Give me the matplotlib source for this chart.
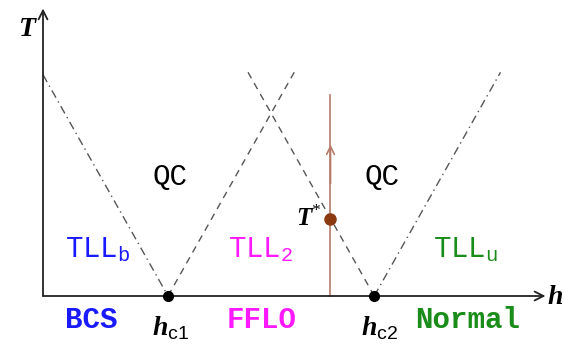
import matplotlib
matplotlib.use("Agg")
import matplotlib.pyplot as plt

plt.rcParams['mathtext.fontset'] = 'custom'
plt.rcParams['mathtext.rm'] = 'Liberation Serif'
plt.rcParams['mathtext.bf'] = 'Liberation Serif:bold:italic'
plt.rcParams['mathtext.sf'] = 'Liberation Sans'
plt.rcParams['mathtext.tt'] = 'Liberation Mono'

# critical fields and special points (arbitrary units)
hc = [1.0, 2.65]
h_star = 2.30
T_star = 0.62
T_star_top = 1.61
T_star_arrow = 1.21
# crossover lines: (h_start, T_start, h_end, T_end)
dashdot_lines = [(0.0, 1.77, 1.0, 0.0), (2.65, 0.0, 3.66, 1.79)]
dashed_lines = [(1.0, 0.0, 2.01, 1.79), (2.65, 0.0, 1.64, 1.79)]
# region labels
qc_pos = [(1.02, 0.95), (2.71, 0.95)]
tll_labels = [r'$\mathtt{TLL}_{\mathtt{b}}$', r'$\mathtt{TLL}_{\mathtt{2}}$', r'$\mathtt{TLL}_{\mathtt{u}}$']
tll_pos = [(0.44, 0.37), (1.74, 0.37), (3.38, 0.37)]
phase_labels = ['BCS', 'FFLO', 'Normal']
phase_pos = [(0.39, -0.19), (1.75, -0.19), (3.40, -0.19)]
colors = ['#1a1aff', '#ff19ff', '#1a8c1a']

fig = plt.figure(figsize=(5.64, 3.52), dpi=100)
ax = fig.add_axes([0, 0, 1, 1])
ax.set_xlim(-0.344, 4.168)
ax.set_ylim(-0.448, 2.368)
ax.axis('off')

# axes with arrows
ax.annotate('', xy=(4.02, 0), xytext=(0, 0),
            arrowprops=dict(arrowstyle='->', color='#222222', lw=1.3,
                            mutation_scale=16, shrinkA=0, shrinkB=0))
ax.annotate('', xy=(0, 2.30), xytext=(0, 0),
            arrowprops=dict(arrowstyle='->', color='#222222', lw=1.3,
                            mutation_scale=16, shrinkA=0, shrinkB=0))

for h0, t0, h1, t1 in dashdot_lines:
    ax.plot([h0, h1], [t0, t1], color='#555555', lw=1.0, linestyle=(0, (6, 3, 1, 3)))
for h0, t0, h1, t1 in dashed_lines:
    ax.plot([h0, h1], [t0, t1], color='#555555', lw=1.0, linestyle=(0, (5, 4)))

# T* trajectory
ax.plot([h_star, h_star], [0, T_star_top], color='#b57a6a', lw=1.2)
ax.annotate('', xy=(h_star, T_star_arrow), xytext=(h_star, 0.9),
            arrowprops=dict(arrowstyle='->', color='#b57a6a', lw=1.2,
                            mutation_scale=14, shrinkA=0, shrinkB=0))
ax.plot([h_star], [T_star], 'o', color='#8b3a10', markersize=8, zorder=5)
ax.text(h_star - 0.07, T_star, r'$\mathbf{T}^{*}$', fontsize=18, ha='right', va='center')

# critical points
ax.plot(hc, [0, 0], 'o', color='black', markersize=7, zorder=5)
ax.text(hc[0] + 0.02, -0.14, r'$\mathbf{h}_{\mathsf{c1}}$', fontsize=20, ha='center', va='top')
ax.text(hc[1] + 0.04, -0.14, r'$\mathbf{h}_{\mathsf{c2}}$', fontsize=20, ha='center', va='top')

for (x, y) in qc_pos:
    ax.text(x, y, 'QC', fontsize=21, family='Liberation Mono', ha='center', va='center')
for lab, (x, y), c in zip(tll_labels, tll_pos, colors):
    ax.text(x, y, lab, fontsize=21, color=c, ha='center', va='center')
for lab, (x, y), c in zip(phase_labels, phase_pos, colors):
    ax.text(x, y, lab, fontsize=21, color=c, family='Liberation Mono',
            fontweight='bold', ha='center', va='center')

ax.text(-0.12, 2.14, r'$\mathbf{T}$', fontsize=20, ha='center', va='center')
ax.text(4.03, 0.0, r'$\mathbf{h}$', fontsize=20, ha='left', va='center')

fig.savefig('out.png', dpi=100)
